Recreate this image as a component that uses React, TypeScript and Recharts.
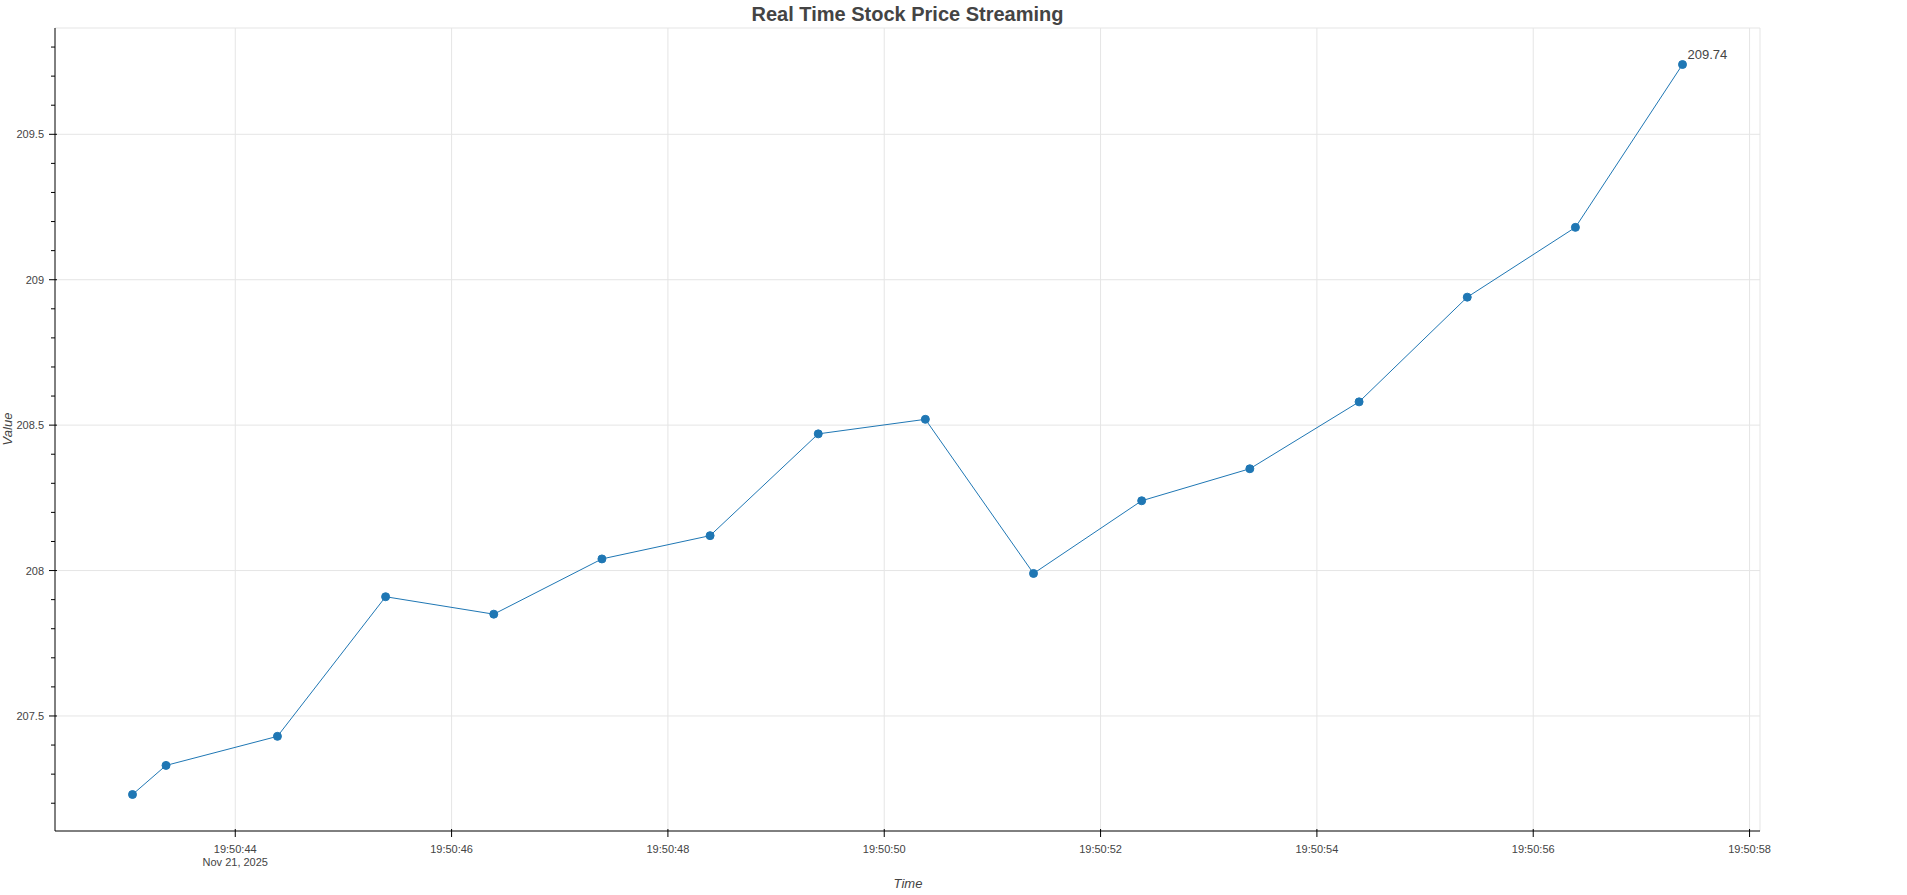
import React from "react";
import {
  LineChart,
  Line,
  XAxis,
  YAxis,
  CartesianGrid,
  LabelList,
} from "recharts";

// seconds after 19:50:00 on Nov 21, 2025
const seconds = [
  43.05, 43.36, 44.39, 45.39, 46.39, 47.39, 48.39, 49.39, 50.38, 51.38, 52.38,
  53.38, 54.39, 55.39, 56.39, 57.38,
];
const prices = [
  207.23, 207.33, 207.43, 207.91, 207.85, 208.04, 208.12, 208.47, 208.52,
  207.99, 208.24, 208.35, 208.58, 208.94, 209.18, 209.74,
];
const xTicks = [44, 46, 48, 50, 52, 54, 56, 58];
const yMajor = [207.5, 208, 208.5, 209, 209.5];
const timePrefix = "19:50:";
const dateLabel = "Nov 21, 2025";

const FONT = '"Liberation Sans", Arial, Helvetica, sans-serif';
const TEXT = "#444444";
const BLUE = "#1f77b4";
const GRID = "#e5e5e5";

const data = seconds.map((t, i) => ({ t, price: prices[i] }));

// bokeh style auto range: 5% padding each side
const pad = (arr: number[]) => {
  const lo = Math.min(...arr);
  const hi = Math.max(...arr);
  const p = (hi - lo) * 0.05;
  return [lo - p, hi + p];
};
const [xLo, xHi] = pad(seconds);
const [yLo, yHi] = pad(prices);

// minor ticks every 0.1
const yTicks: number[] = [];
for (let v = Math.ceil(yLo * 10); v <= Math.floor(yHi * 10); v++) {
  yTicks.push(v / 10);
}
const isMajor = (v: number) => Math.abs(v * 2 - Math.round(v * 2)) < 1e-6;

const YTick = (props: any) => {
  const { x, y, payload } = props;
  const major = isMajor(payload.value);
  return (
    <g>
      <line
        x1={x - (major ? 6 : 4)}
        x2={x + (major ? 2 : 0)}
        y1={y}
        y2={y}
        stroke="#000"
        strokeWidth={1}
      />
      {major && (
        <text
          x={x - 11}
          y={y + 4}
          textAnchor="end"
          fontSize={11}
          fontFamily={FONT}
          fill={TEXT}
        >
          {payload.value}
        </text>
      )}
    </g>
  );
};

const XTick = (props: any) => {
  const { x, y, payload, index } = props;
  const s = String(payload.value).padStart(2, "0");
  return (
    <g>
      <line x1={x} x2={x} y1={y - 2} y2={y + 6} stroke="#000" strokeWidth={1} />
      <text
        x={x}
        y={y + 22}
        textAnchor="middle"
        fontSize={11}
        fontFamily={FONT}
        fill={TEXT}
      >
        {timePrefix + s}
      </text>
      {index === 0 && (
        <text
          x={x}
          y={y + 35}
          textAnchor="middle"
          fontSize={11}
          fontFamily={FONT}
          fill={TEXT}
        >
          {dateLabel}
        </text>
      )}
    </g>
  );
};

const renderLastLabel = (props: any) => {
  const { value } = props;
  if (value !== prices[prices.length - 1]) return null;
  const x = props.x ?? props.viewBox?.x;
  const y = props.y ?? props.viewBox?.y;
  return (
    <text
      x={x + 5}
      y={y - 6}
      fontSize={13}
      fontFamily={FONT}
      fill={TEXT}
    >
      {value}
    </text>
  );
};

const App = () => {
  return (
    <div
      style={{
        position: "absolute",
        left: 0,
        top: 0,
        width: 1907,
        height: 895,
        background: "#fff",
      }}
    >
      <div
        style={{
          position: "absolute",
          left: 55,
          width: 1705,
          top: 4,
          textAlign: "center",
          font: `bold 20px ${FONT}`,
          lineHeight: "20px",
          color: TEXT,
        }}
      >
        Real Time Stock Price Streaming
      </div>
      <LineChart
        width={1907}
        height={895}
        data={data}
        margin={{ top: 28, right: 147, bottom: 0, left: 0 }}
      >
        <CartesianGrid
          stroke={GRID}
          strokeWidth={1}
          horizontalValues={[...yMajor, yHi]}
          verticalValues={[...xTicks, xHi]}
        />
        <XAxis
          dataKey="t"
          type="number"
          domain={[xLo, xHi]}
          ticks={xTicks}
          interval={0}
          height={64}
          tickSize={0}
          tickMargin={0}
          tickLine={false}
          axisLine={{ stroke: "#000", strokeWidth: 1 }}
          tick={<XTick />}
          allowDataOverflow
          label={{
            content: () => (
              <text
                x={908}
                y={888}
                textAnchor="middle"
                fontSize={13}
                fontStyle="italic"
                fontFamily={FONT}
                fill={TEXT}
              >
                Time
              </text>
            ),
          }}
        />
        <YAxis
          type="number"
          domain={[yLo, yHi]}
          ticks={yTicks}
          interval={0}
          width={55}
          tickSize={0}
          tickMargin={0}
          tickLine={false}
          axisLine={{ stroke: "#000", strokeWidth: 1 }}
          tick={<YTick />}
          allowDataOverflow
          label={{
            content: () => (
              <text
                x={12}
                y={429}
                transform="rotate(-90 12 429)"
                textAnchor="middle"
                fontSize={13}
                fontStyle="italic"
                fontFamily={FONT}
                fill={TEXT}
              >
                Value
              </text>
            ),
          }}
        />
        <Line
          type="linear"
          dataKey="price"
          stroke={BLUE}
          strokeWidth={1}
          dot={{ r: 4, fill: BLUE, stroke: BLUE, strokeWidth: 1 }}
          activeDot={false}
          isAnimationActive={false}
        >
          <LabelList dataKey="price" content={renderLastLabel} />
        </Line>
      </LineChart>
    </div>
  );
};

export default App;
